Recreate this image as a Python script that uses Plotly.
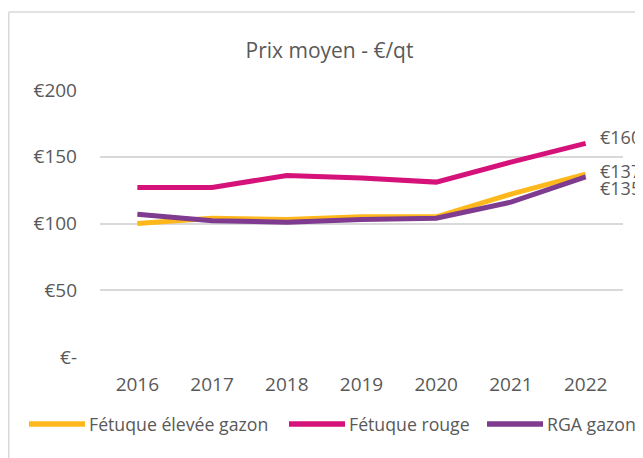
import plotly.graph_objects as go

years = ["2016", "2017", "2018", "2019", "2020", "2021", "2022"]
fetuque_elevee = [100, 104, 103, 105, 105, 122, 137]
fetuque_rouge = [127, 127, 136, 134, 131, 146, 160]
rga_gazon = [107, 102, 101, 103, 104, 116, 135]
series_names = ["Fétuque élevée gazon", "Fétuque rouge", "RGA gazon"]
colors = ["#FFB81C", "#D5127A", "#7E3B8F"]
y_ticks = [0, 50, 100, 150, 200]
y_tick_labels = ["€-", "€50", "€100", "€150", "€200"]
end_label_shift = [3, 6, -11]

# manual legend placement (paper coordinates)
legend_line_x = [(-0.1358, -0.0287), (0.3614, 0.4685), (0.740, 0.847)]
legend_text_x = [-0.0249, 0.4723, 0.8509]
legend_y = -0.2509

font_family = "'Open Sans', 'Noto Sans', sans-serif"
grey = "#595959"
series_values = [fetuque_elevee, fetuque_rouge, rga_gazon]

fig = go.Figure()
for name, vals, col in zip(series_names, series_values, colors):
    fig.add_trace(go.Scatter(x=years, y=vals, name=name, mode="lines",
                             line=dict(color=col, width=5), cliponaxis=False,
                             showlegend=False))

last_idx = len(years) - 1
for vals, sh in zip(series_values, end_label_shift):
    fig.add_annotation(x=last_idx, y=vals[-1], xref="x", yref="y", text="€%d" % vals[-1],
                       showarrow=False, xanchor="left", yanchor="middle", xshift=12, yshift=sh,
                       font=dict(size=18, color=grey, family=font_family))

# legend drawn manually
for name, col, (lx0, lx1), tx in zip(series_names, colors, legend_line_x, legend_text_x):
    fig.add_shape(type="line", xref="paper", yref="paper", x0=lx0, x1=lx1, y0=legend_y, y1=legend_y,
                  line=dict(color=col, width=5.5))
    fig.add_annotation(x=tx, y=legend_y, xref="paper", yref="paper", text=name, showarrow=False,
                       xanchor="left", yanchor="middle",
                       font=dict(size=17.7, color=grey, family=font_family))

# frame lines
fig.add_shape(type="line", xref="paper", yref="paper", x0=-0.1745, x1=-0.1745, y0=-0.5, y1=1.292,
              line=dict(color="#d9d9d9", width=1.5))
fig.add_shape(type="line", xref="paper", yref="paper", x0=-0.1745, x1=1.1, y0=1.292, y1=1.292,
              line=dict(color="#d9d9d9", width=1.5))

fig.update_layout(
    width=635, height=450,
    margin=dict(l=92, r=20, t=82, b=101),
    paper_bgcolor="white", plot_bgcolor="white",
    font=dict(family=font_family, color=grey, size=19),
    title=dict(text="Prix moyen - €/qt", x=0.5063, xanchor="center", y=0.905, yanchor="middle",
               font=dict(size=21, color=grey, family=font_family)),
    showlegend=False,
    xaxis=dict(type="category", range=[-0.5, 6.5], showgrid=False, showline=False,
               ticks="", ticklabelstandoff=14, tickfont=dict(size=19, color=grey), fixedrange=True),
    yaxis=dict(range=[0, 200], tickvals=y_ticks, ticktext=y_tick_labels, showgrid=True,
               gridcolor="#d9d9d9", gridwidth=1.5, zeroline=False, showline=False,
               ticks="", ticklabelstandoff=22, tickfont=dict(size=19, color=grey)),
)
fig.write_html("out.html")
